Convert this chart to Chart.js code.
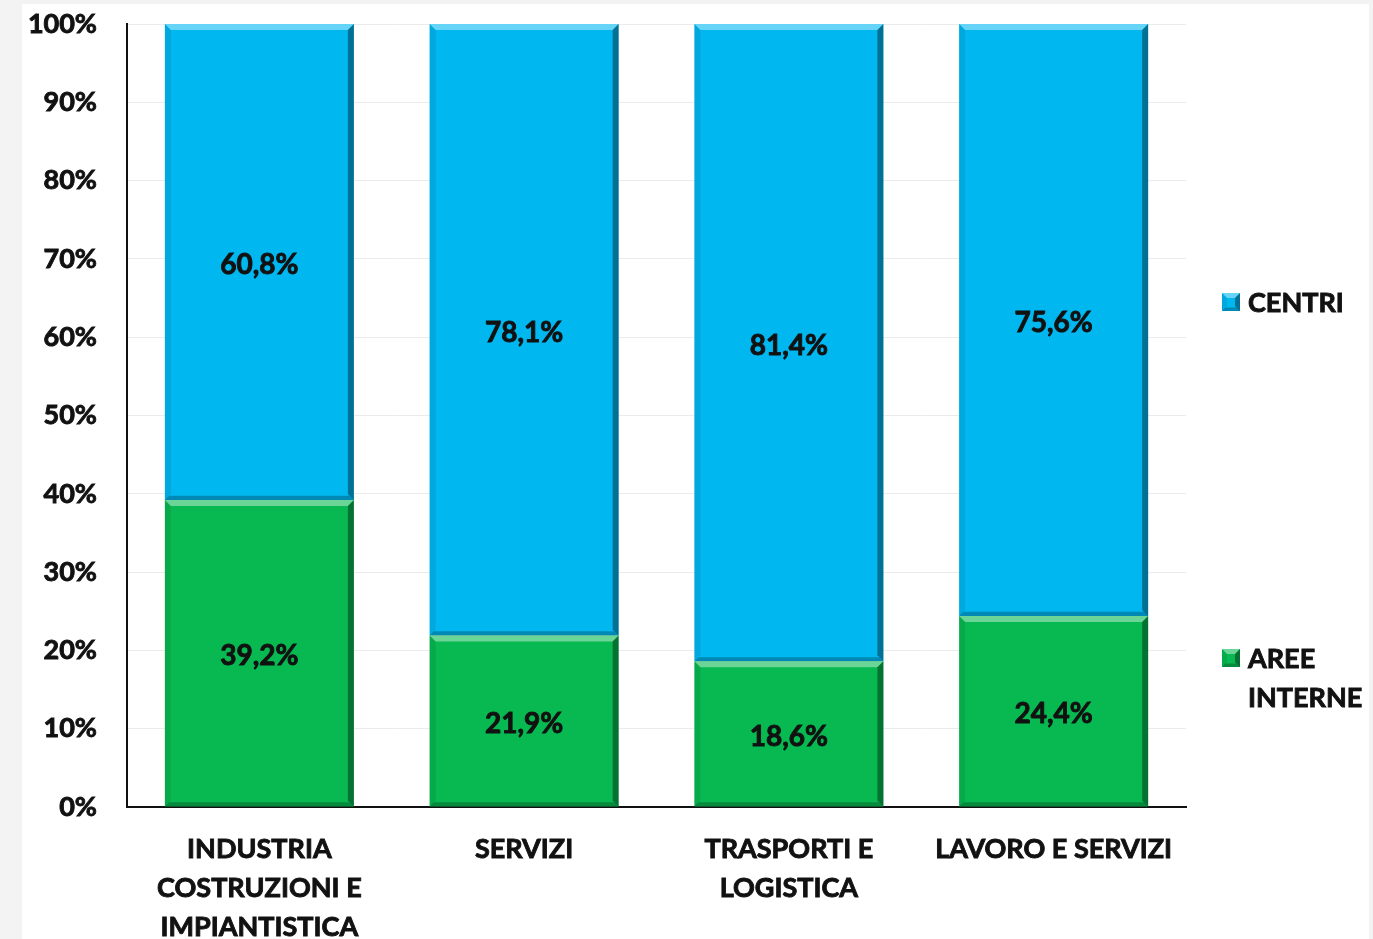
<!DOCTYPE html>
<html>
<head>
<meta charset="utf-8">
<script src="https://cdn.jsdelivr.net/npm/chart.js@4/dist/chart.umd.min.js"></script>
<style>
  html, body { margin: 0; padding: 0; background: #f3f3f3; }
  #wrap { position: absolute; left: 0; top: 0; width: 1373px; height: 939px; }
</style>
</head>
<body>
<div id="wrap"><canvas id="chart" width="1373" height="939"></canvas></div>
<script>
// Sector categories (multi-line labels)
const categories = [
  ['INDUSTRIA', 'COSTRUZIONI E', 'IMPIANTISTICA'],
  ['SERVIZI'],
  ['TRASPORTI E', 'LOGISTICA'],
  ['LAVORO E SERVIZI']
];
// Share of each sector, in percent
const areeInterne = [39.2, 21.9, 18.6, 24.4];
const centri = [60.8, 78.1, 81.4, 75.6];
const seriesNames = ['AREE INTERNE', 'CENTRI'];
const yTicks = [0, 10, 20, 30, 40, 50, 60, 70, 80, 90, 100];

const FONT = 'Lato, "Open Sans", sans-serif';
const INK = '#111111';
const BLUE = 'rgb(0,183,240)';
const GREEN = 'rgb(8,185,82)';

// Page panel: light grey surround with a white card
const panelPlugin = {
  id: 'panel',
  beforeDraw(chart) {
    const ctx = chart.ctx;
    ctx.save();
    ctx.fillStyle = '#f3f3f3';
    ctx.fillRect(0, 0, chart.width, chart.height);
    ctx.fillStyle = '#ffffff';
    ctx.fillRect(22, 4, 1347, chart.height - 4);
    ctx.restore();
  }
};

// Bevelled edges on every bar segment
function bevelRect(ctx, l, t, r, b, d) {
  ctx.save();
  ctx.fillStyle = 'rgba(255,255,255,0.4)';
  ctx.beginPath();
  ctx.moveTo(l, t); ctx.lineTo(r, t); ctx.lineTo(r - d, t + d); ctx.lineTo(l + d, t + d);
  ctx.closePath(); ctx.fill();
  ctx.fillStyle = 'rgba(0,0,0,0.08)';
  ctx.beginPath();
  ctx.moveTo(l, t); ctx.lineTo(l + d, t + d); ctx.lineTo(l + d, b - d); ctx.lineTo(l, b);
  ctx.closePath(); ctx.fill();
  ctx.fillStyle = 'rgba(0,0,0,0.38)';
  ctx.beginPath();
  ctx.moveTo(r, t); ctx.lineTo(r, b); ctx.lineTo(r - d, b - d); ctx.lineTo(r - d, t + d);
  ctx.closePath(); ctx.fill();
  ctx.fillStyle = 'rgba(0,0,0,0.25)';
  ctx.beginPath();
  ctx.moveTo(l, b); ctx.lineTo(r, b); ctx.lineTo(r - d * 0.7, b - d * 0.7); ctx.lineTo(l + d * 0.7, b - d * 0.7);
  ctx.closePath(); ctx.fill();
  ctx.restore();
}

const bevelPlugin = {
  id: 'bevel',
  afterDatasetsDraw(chart) {
    const ctx = chart.ctx;
    chart.data.datasets.forEach((ds, i) => {
      const meta = chart.getDatasetMeta(i);
      meta.data.forEach(el => {
        const p = el.getProps(['x', 'y', 'base', 'width'], true);
        const l = p.x - p.width / 2, r = p.x + p.width / 2;
        const t = Math.min(p.y, p.base), b = Math.max(p.y, p.base);
        bevelRect(ctx, l, t, r, b, 6);
      });
    });
  }
};

function boldText(ctx, txt, x, y) {
  ctx.lineWidth = 0.9;
  ctx.strokeStyle = INK;
  ctx.strokeText(txt, x, y);
  ctx.fillText(txt, x, y);
}

// Value labels centred in each segment
const valueLabelPlugin = {
  id: 'valueLabels',
  afterDatasetsDraw(chart) {
    const ctx = chart.ctx;
    ctx.save();
    ctx.font = 'bold 28px ' + FONT;
    ctx.fillStyle = INK;
    ctx.textAlign = 'center';
    ctx.textBaseline = 'middle';
    chart.data.datasets.forEach((ds, i) => {
      const meta = chart.getDatasetMeta(i);
      meta.data.forEach((el, j) => {
        const p = el.getProps(['x', 'y', 'base'], true);
        const txt = ds.data[j].toFixed(1).replace('.', ',') + '%';
        boldText(ctx, txt, p.x, (p.y + p.base) / 2 + 3);
      });
    });
    ctx.restore();
  }
};

// Legend on the right, built from the dataset names and colours
const sideLegendPlugin = {
  id: 'sideLegend',
  afterDraw(chart) {
    const ctx = chart.ctx;
    const entries = [
      { ds: chart.data.datasets[1], lines: ['CENTRI'], y: 302 },
      { ds: chart.data.datasets[0], lines: ['AREE', 'INTERNE'], y: 658 }
    ];
    ctx.save();
    ctx.font = 'bold 27px ' + FONT;
    ctx.textBaseline = 'middle';
    ctx.textAlign = 'left';
    entries.forEach(e => {
      const bx = 1222, by = e.y - 9, s = 18;
      ctx.fillStyle = e.ds.backgroundColor;
      ctx.fillRect(bx, by, s, s);
      bevelRect(ctx, bx, by, bx + s, by + s, 5);
      ctx.fillStyle = INK;
      e.lines.forEach((ln, k) => boldText(ctx, ln, 1248, e.y + 1 + k * 39));
    });
    ctx.restore();
  }
};

new Chart(document.getElementById('chart'), {
  type: 'bar',
  data: {
    labels: categories,
    datasets: [
      { label: seriesNames[0], data: areeInterne, backgroundColor: GREEN, borderWidth: 0 },
      { label: seriesNames[1], data: centri, backgroundColor: BLUE, borderWidth: 0 }
    ]
  },
  options: {
    responsive: false,
    animation: false,
    devicePixelRatio: 1,
    layout: { padding: { top: 24, right: 187, bottom: 0, left: 0 } },
    categoryPercentage: 1,
    barPercentage: 0.714,
    plugins: {
      legend: { display: false },
      tooltip: { enabled: false }
    },
    scales: {
      x: {
        stacked: true,
        grid: { display: false },
        border: { display: true, color: INK, width: 2 },
        ticks: {
          color: INK,
          textStrokeColor: INK,
          textStrokeWidth: 0.9,
          font: { family: FONT, size: 27, weight: 'bold', lineHeight: 1.44 },
          padding: 15,
          maxRotation: 0,
          autoSkip: false
        },
        afterFit(scale) { scale.height = 132; }
      },
      y: {
        stacked: true,
        min: 0,
        max: 100,
        afterBuildTicks(scale) { scale.ticks = yTicks.map(v => ({ value: v })); },
        grid: { color: '#ebebeb', lineWidth: 1, drawTicks: false },
        border: { display: true, color: INK, width: 2 },
        ticks: {
          color: INK,
          textStrokeColor: INK,
          textStrokeWidth: 0.9,
          font: { family: FONT, size: 27, weight: 'bold' },
          padding: 30,
          callback: v => v + '%'
        },
        afterFit(scale) {
          scale.width = 127;
          scale.paddingTop = 0;
          scale.paddingBottom = 0;
        }
      }
    }
  },
  plugins: [panelPlugin, bevelPlugin, valueLabelPlugin, sideLegendPlugin]
});
</script>
</body>
</html>
